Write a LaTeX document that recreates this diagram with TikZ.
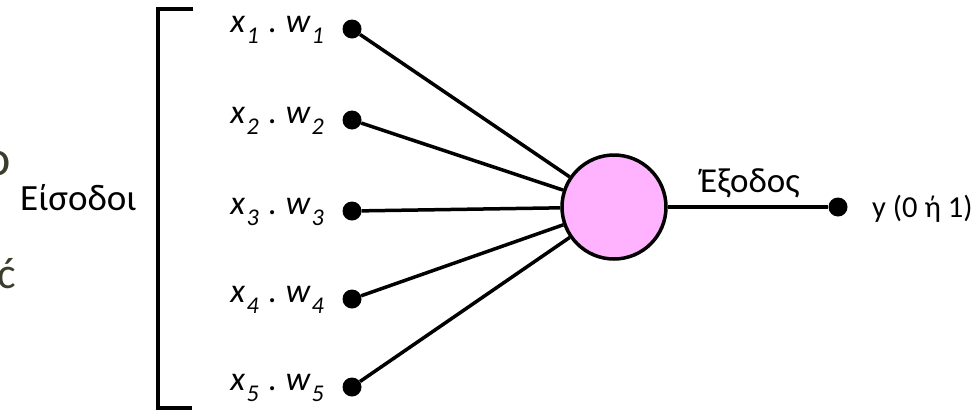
\documentclass[tikz,border=0pt]{standalone}
\usepackage{fontspec}
\setmainfont{Carlito}
\usepackage{xcolor}
\usetikzlibrary{positioning, calc}

\definecolor{neuronpink}{HTML}{FFB3FF}
\definecolor{slideolive}{HTML}{3D3D2E}

\newcommand{\lowsub}[1]{\kern1.5pt\raisebox{-11pt}{\fontsize{24}{24}\selectfont #1}}
\newcommand{\xw}[1]{\textit{x\lowsub{#1}\kern2pt\ .\ \kern1pt w\lowsub{#1}}}

\begin{document}
\begin{tikzpicture}[x=1pt, y=-1pt,
        inputdot/.style={circle, fill=black, inner sep=0pt, minimum size=19pt},
        weighttext/.style={anchor=base east, inner sep=0pt, font=\fontsize{34}{34}\selectfont},
        plaintext/.style={anchor=base west, inner sep=0pt},
        link/.style={line width=3.5pt, draw=black}
    ]
    \useasboundingbox (0,0) rectangle (976,413);

    % Cut-off text at the left edge
    \node[anchor=base east, inner sep=0pt, text=slideolive, font=\fontsize{50}{50}\selectfont] (cuttop) at (11,175) {ο};
    \node[anchor=base east, inner sep=0pt, text=slideolive, font=\fontsize{44}{44}\selectfont] (cutbot) at (16,288) {ć};

    % Inputs
    \node[plaintext, font=\fontsize{37}{37}\selectfont] (inputs) at (20,210) {Είσοδοι};
    \draw[line width=3.5pt] (193,9) -| (158,408) -- (192,408);

    \node[inputdot] (in1) at (352,29) {};
    \node[inputdot] (in2) at (352,120) {};
    \node[inputdot] (in3) at (352,211) {};
    \node[inputdot] (in4) at (352,299) {};
    \node[inputdot] (in5) at (352,387) {};

    \node[weighttext] (w1) at (324,32) {\xw{1}};
    \node[weighttext] (w2) at (324,123) {\xw{2}};
    \node[weighttext] (w3) at (324,214) {\xw{3}};
    \node[weighttext] (w4) at (324,302) {\xw{4}};
    \node[weighttext] (w5) at (324,390) {\xw{5}};

    % Neuron and output
    \node[circle, draw, line width=3.5pt, fill=neuronpink, minimum size=104pt] (neuron) at (614,207) {};
    \node[inputdot] (out) at (838,207) {};
    \node[plaintext, font=\fontsize{35}{35}\selectfont] (outname) at (700,192) {Έξοδος};
    \node[plaintext, font=\fontsize{30.5}{30.5}\selectfont] (outval) at (872,217) {y (0 ή 1)};

    % Connections
    \foreach \i in {1,...,5}
        \draw[link] (in\i) -- (neuron);
    \draw[link] (neuron) -- (out);

\end{tikzpicture}
\end{document}
